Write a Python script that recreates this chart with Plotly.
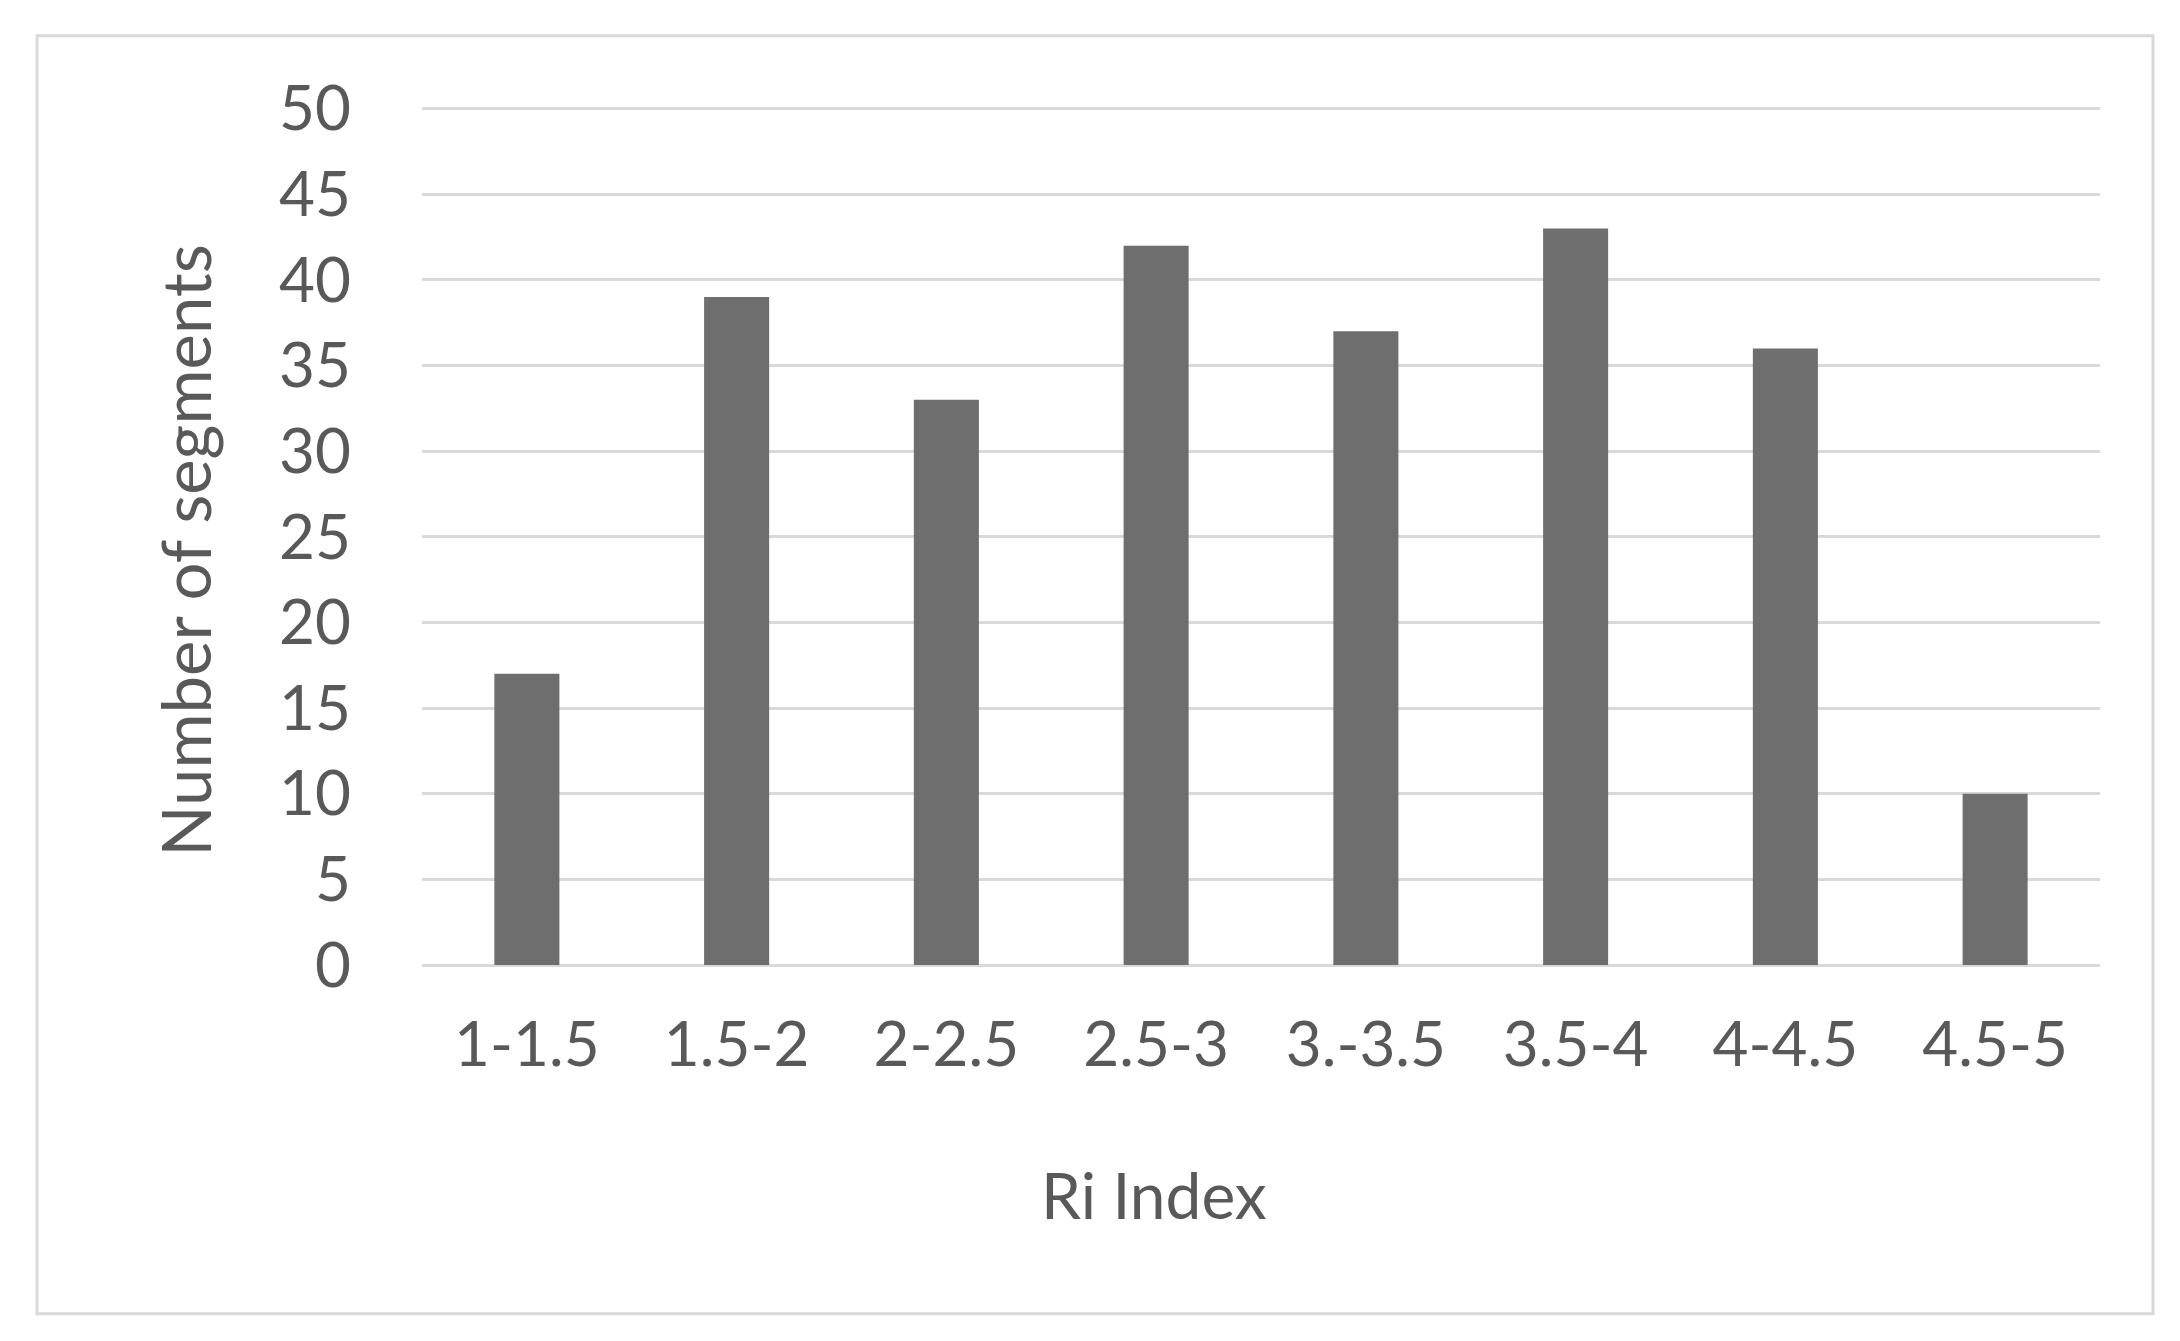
import plotly.graph_objects as go

# Ri index classes and segment counts
ri_classes = ['1-1.5', '1.5-2', '2-2.5', '2.5-3', '3.-3.5', '3.5-4', '4-4.5', '4.5-5']
segments = [17, 39, 33, 42, 37, 43, 36, 10]
y_ticks = [0, 5, 10, 15, 20, 25, 30, 35, 40, 45, 50]

bar_color = "rgb(110,110,110)"
grid_color = "rgb(217,217,217)"
text_color = "rgb(89,89,89)"
font_name = "Lato"

trace = go.Bar(
    x=ri_classes,
    y=segments,
    marker=dict(color=bar_color, line=dict(width=0)),
)

layout = go.Layout(
    width=2180,
    height=1341,
    margin=dict(l=414, r=88, t=99, b=384),
    paper_bgcolor="white",
    plot_bgcolor="white",
    bargap=0.69,
    showlegend=False,
    font=dict(family=font_name, size=62, color=text_color),
    xaxis=dict(
        showgrid=False,
        showline=False,
        zeroline=False,
        ticks="",
        ticklabelstandoff=38,
        tickfont=dict(family=font_name, size=62, color=text_color),
    ),
    yaxis=dict(
        range=[0, 50.1],
        tickmode="array",
        tickvals=y_ticks,
        showgrid=True,
        gridcolor=grid_color,
        gridwidth=3,
        zeroline=True,
        zerolinecolor=grid_color,
        zerolinewidth=3,
        showline=False,
        ticks="",
        ticklabelstandoff=70,
        tickfont=dict(family=font_name, size=62, color=text_color),
    ),
)

fig = go.Figure(data=[trace], layout=layout)

# axis titles placed like the original chart
fig.add_annotation(
    text="Number of segments", xref="paper", yref="paper",
    x=-0.141, y=0.4836, textangle=-90, showarrow=False,
    xanchor="center", yanchor="middle",
    font=dict(family=font_name, size=67, color=text_color),
)
fig.add_annotation(
    text="Ri Index", xref="paper", yref="paper",
    x=0.4362, y=-0.2675, showarrow=False,
    xanchor="center", yanchor="middle",
    font=dict(family=font_name, size=64, color=text_color),
)

# chart area border
fig.add_shape(
    type="rect", xref="paper", yref="paper",
    x0=-0.2294, x1=1.0316, y0=-0.4065, y1=1.0829,
    line=dict(color=grid_color, width=3),
    layer="below",
)

fig.write_html("out.html")
